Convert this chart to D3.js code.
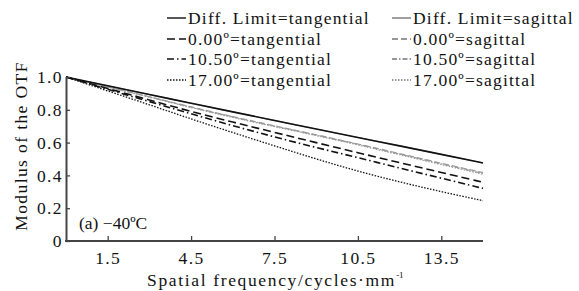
<!DOCTYPE html>
<html lang="en">
<head>
  <meta charset="UTF-8">
  <title>Modulus of the OTF</title>
  <script src="https://d3js.org/d3.v7.min.js"></script>
  <style>
    body { margin: 0; background: #fff; }
    svg text { font-family: "Times New Roman", "Liberation Serif", Times, serif; fill: #111; }
  </style>
</head>
<body>
  <script>
    // spatial frequency samples (cycles/mm)
    const freq = [0, 1.5, 3, 4.5, 6, 7.5, 9, 10.5, 12, 13.5, 15];

    // MTF values
    const diffTan = [1.0, 0.946, 0.893, 0.840, 0.787, 0.735, 0.683, 0.631, 0.580, 0.528, 0.476];
    const diffSag = [1.0, 0.946, 0.893, 0.840, 0.787, 0.735, 0.683, 0.631, 0.580, 0.528, 0.476];
    const tan0 = [1.0, 0.930, 0.860, 0.789, 0.725, 0.662, 0.600, 0.538, 0.478, 0.418, 0.358];
    const sag0 = [1.0, 0.941, 0.880, 0.817, 0.758, 0.702, 0.648, 0.592, 0.533, 0.474, 0.417];
    const tan10 = [1.0, 0.925, 0.850, 0.775, 0.703, 0.634, 0.570, 0.508, 0.445, 0.383, 0.321];
    const sag10 = [1.0, 0.940, 0.879, 0.815, 0.756, 0.700, 0.646, 0.590, 0.530, 0.470, 0.412];
    const tan17 = [1.0, 0.915, 0.831, 0.744, 0.661, 0.580, 0.500, 0.425, 0.360, 0.300, 0.246];
    const sag17 = [1.0, 0.939, 0.877, 0.813, 0.753, 0.697, 0.643, 0.586, 0.526, 0.466, 0.407];

    const xTicks = [1.5, 4.5, 7.5, 10.5, 13.5];
    const yTicks = [0, 0.2, 0.4, 0.6, 0.8, 1.0];

    const w = 579;
    const h = 291;

    const svg = d3.select('body')
      .append('svg')
      .attr('width', w)
      .attr('height', h)

    const xScale = d3.scaleLinear().domain([0, 15]).range([66, 483]);
    const yScale = d3.scaleLinear().domain([0, 1]).range([241, 77]);

    // series styles
    const series = [
      { name: 'Diff. Limit=tangential', data: diffTan, color: '#111', dash: null, width: 1.6 },
      { name: 'Diff. Limit=sagittal', data: diffSag, color: '#999', dash: null, width: 1.2 },
      { name: '0.00º=tangential', data: tan0, color: '#111', dash: '8,4', width: 1.6 },
      { name: '0.00º=sagittal', data: sag0, color: '#999', dash: '6,3', width: 1.2 },
      { name: '10.50º=tangential', data: tan10, color: '#111', dash: '7,3,1.5,3', width: 1.6 },
      { name: '10.50º=sagittal', data: sag10, color: '#999', dash: '5,2,1.5,2', width: 1.2 },
      { name: '17.00º=tangential', data: tan17, color: '#111', dash: '1.5,1.5', width: 1.3 },
      { name: '17.00º=sagittal', data: sag17, color: '#999', dash: '1.5,1.5', width: 1.2 }
    ]

    const line = d3.line()
      .x((d, i) => xScale(freq[i]))
      .y(d => yScale(d))
      .curve(d3.curveBasis)

    // draw gray first so black sits on top
    const order = [1, 3, 5, 7, 0, 2, 4, 6]
    svg.selectAll('path.curve')
      .data(order.map(i => series[i]))
      .enter()
      .append('path')
      .attr('class', 'curve')
      .attr('d', d => line(d.data))
      .attr('fill', 'none')
      .attr('stroke', d => d.color)
      .attr('stroke-width', d => d.width)
      .attr('stroke-dasharray', d => d.dash)

    // x axis
    const xAxis = d3.axisBottom(xScale)
      .tickValues(xTicks)
      .tickFormat(d3.format('.1f'))
      .tickSizeInner(-5)
      .tickSizeOuter(0)
      .tickPadding(11)

    const gx = svg.append('g')
      .attr('transform', `translate(0,${yScale(0)})`)
      .call(xAxis)
    gx.select('.domain').attr('stroke', '#444').attr('stroke-width', 2)
      .attr('d', `M${xScale(0) - 1},0H${xScale(15)}`)
    gx.selectAll('.tick line').attr('stroke', '#444').attr('stroke-width', 1.3)
    gx.selectAll('.tick text')
      .attr('font-size', 17.5)
      .attr('letter-spacing', 1.4)
      .attr('fill', '#111')

    // y axis
    const yAxis = d3.axisLeft(yScale)
      .tickValues(yTicks)
      .tickFormat(d => d === 0 ? '0' : d3.format('.1f')(d))
      .tickSizeInner(-4)
      .tickSizeOuter(0)
      .tickPadding(3)

    const gy = svg.append('g')
      .attr('transform', `translate(${xScale(0)},0)`)
      .call(yAxis)
    gy.select('.domain').attr('stroke', '#444').attr('stroke-width', 2)
    gy.selectAll('.tick line').attr('stroke', '#444').attr('stroke-width', 1.3)
    gy.selectAll('.tick text')
      .attr('font-size', 17.5)
      .attr('letter-spacing', 1.4)
      .attr('fill', '#111')

    // axis titles
    const xTitle = svg.append('text')
      .attr('x', 147)
      .attr('y', 286)
      .attr('font-size', 17.5)
      .attr('letter-spacing', 1.65)
    xTitle.append('tspan').text('Spatial frequency/cycles·mm')
    xTitle.append('tspan').attr('dy', -8).attr('font-size', 9).attr('letter-spacing', 0).text('-1')

    svg.append('text')
      .attr('transform', 'translate(27,146) rotate(-90)')
      .attr('text-anchor', 'middle')
      .attr('font-size', 17.5)
      .attr('letter-spacing', 1.4)
      .text('Modulus of the OTF')

    // panel label
    svg.append('text')
      .attr('x', 79)
      .attr('y', 229)
      .attr('font-size', 17.5)
      .text('(a) −40ºC')

    // legend
    const legendRows = [24, 45, 65, 86]
    const legend = svg.selectAll('g.legend')
      .data(series)
      .enter()
      .append('g')
      .attr('class', 'legend')
      .attr('transform', (d, i) => {
        const col = i % 2
        const row = Math.floor(i / 2)
        return `translate(${col === 0 ? 167 : 392},${legendRows[row]})`
      })

    legend.append('line')
      .attr('x1', 0)
      .attr('x2', 19)
      .attr('y1', -6)
      .attr('y2', -6)
      .attr('stroke', d => d.color === '#999' ? '#777' : '#111')
      .attr('stroke-width', 1.4)
      .attr('stroke-dasharray', d => d.dash)

    legend.append('text')
      .attr('x', 21)
      .attr('font-size', 17.5)
      .attr('letter-spacing', 1.2)
      .text(d => d.name)
  </script>
</body>
</html>
